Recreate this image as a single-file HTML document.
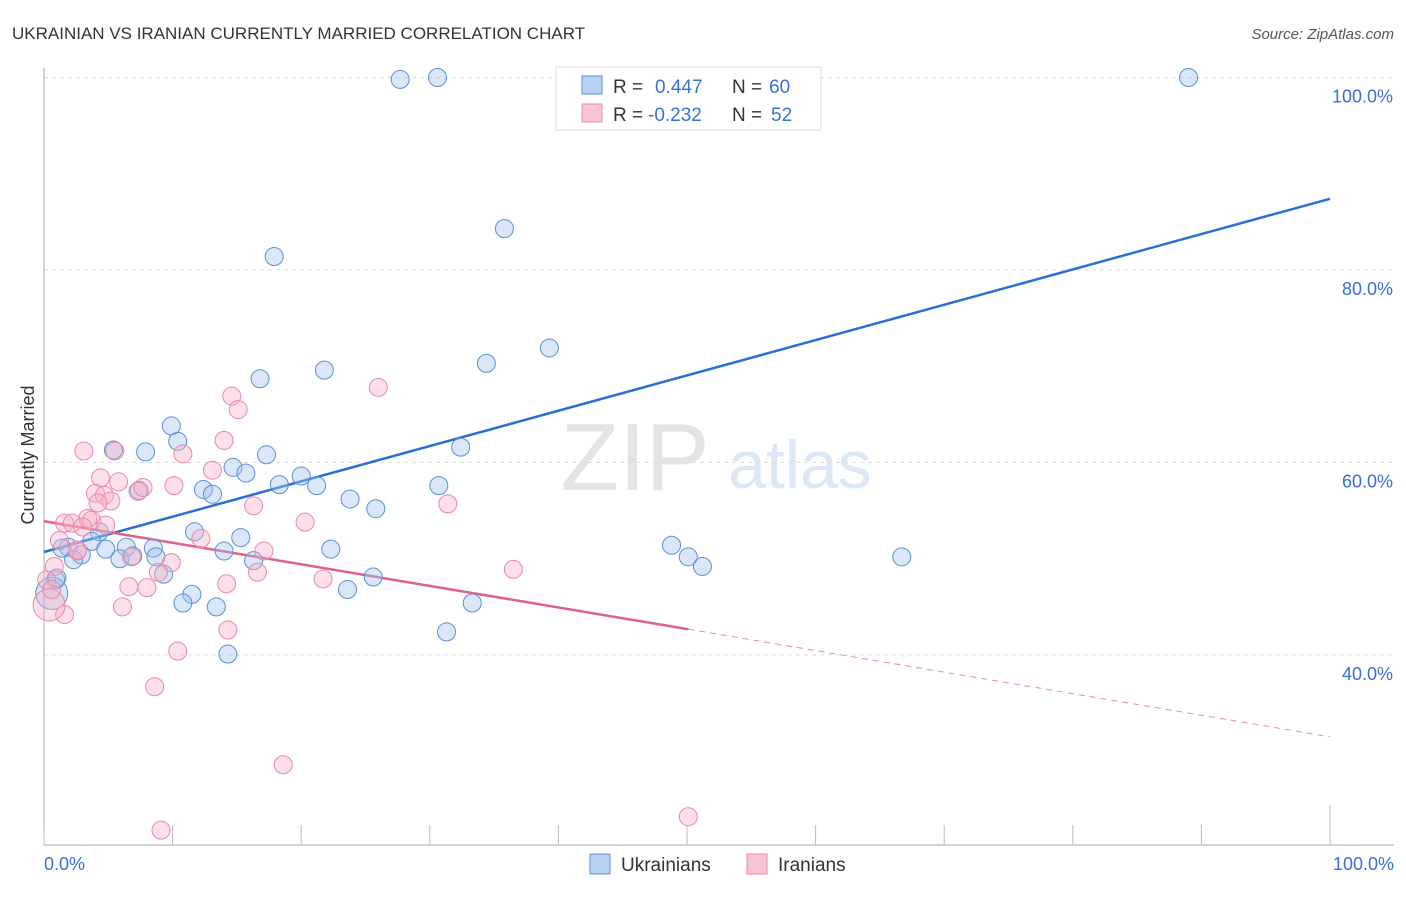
<!DOCTYPE html>
<html><head><meta charset="utf-8"><style>
body{margin:0;background:#fff;font-family:"Liberation Sans",sans-serif}
svg text{font-family:"Liberation Sans",sans-serif}
</style></head><body>
<svg id="c" width="1406" height="892" viewBox="0 0 1406 892">
<text x="12" y="39" font-size="17" fill="#333">UKRAINIAN VS IRANIAN CURRENTLY MARRIED CORRELATION CHART</text>
<text x="1394" y="39" font-size="15" fill="#555" text-anchor="end" font-style="italic">Source: ZipAtlas.com</text>
<text x="635" y="490" font-size="96" fill="#e4e4e4" font-family="Liberation Serif" text-anchor="middle">ZIP</text>
<text x="800" y="488" font-size="68" fill="#dce8f8" text-anchor="middle">atlas</text>
<g id="grid"></g>
<g id="axes"></g>
<g id="lines"></g>
<g id="pts"></g>
<text transform="translate(34,455) rotate(-90)" font-size="18" fill="#333" text-anchor="middle">Currently Married</text>
<g>
<rect x="556" y="67" width="265" height="63" fill="#fff" stroke="#ddd"/>
<rect x="582" y="76" width="20" height="18" fill="#b9d3f5" stroke="#5b8fd8"/>
<rect x="582" y="104" width="20" height="18" fill="#f9c5d5" stroke="#e88aa8"/>
<text x="613" y="93" font-size="19" fill="#333">R = </text><text x="655" y="93" font-size="19" fill="#3a6fd8">0.447</text>
<text x="732" y="93" font-size="19" fill="#333">N = </text><text x="769" y="93" font-size="19" fill="#3a6fd8">60</text>
<text x="613" y="121" font-size="19" fill="#333">R = </text><text x="648" y="121" font-size="19" fill="#3a6fd8">-0.232</text>
<text x="732" y="121" font-size="19" fill="#333">N = </text><text x="771" y="121" font-size="19" fill="#3a6fd8">52</text>
</g>
<g>
<rect x="590" y="854" width="20" height="20" fill="#b9d3f5" stroke="#5b8fd8"/>
<text x="621" y="871" font-size="19" fill="#333">Ukrainians</text>
<rect x="747" y="854" width="20" height="20" fill="#f9c5d5" stroke="#e88aa8"/>
<text x="778" y="871" font-size="19" fill="#333">Iranians</text>
</g>
</svg>
<script>
const yTicks=[40,60,80,100];
const yTickLabels=["40.0%","60.0%","80.0%","100.0%"];
const xTicks=[0,10,20,30,40,50,60,70,80,90,100];
const ukrX=[27.7,30.6,89.0,35.8,17.9,39.3,34.4,21.8,16.8,9.9,10.4,32.4,7.9,5.4,17.3,14.7,15.7,20.0,12.4,13.1,18.3,21.2,7.4,30.7,23.8,25.8,11.7,15.3,4.3,3.7,1.9,6.4,8.5,4.8,2.9,2.3,5.9,6.9,8.7,14.0,22.3,48.8,50.1,51.2,66.7,16.3,9.3,11.5,10.8,13.4,23.6,25.6,33.3,31.3,14.3,0.9,0.6,1.0,1.4];
const ukrY=[99.8,100,100,84.3,81.4,71.9,70.3,69.6,68.7,63.8,62.2,61.6,61.1,61.3,60.8,59.5,58.9,58.6,57.2,56.7,57.7,57.6,57.1,57.6,56.2,55.2,52.8,52.2,52.8,51.8,51.2,51.2,51.1,51.0,50.4,49.9,50.0,50.3,50.2,50.8,51.0,51.4,50.2,49.2,50.2,49.8,48.4,46.3,45.4,45.0,46.8,48.1,45.4,42.4,40.1,47.8,46.4,48.0,51.1];
const ukrBig=[56];
const iraX=[3.1,5.5,14.6,15.1,14.0,10.8,13.1,4.4,5.8,10.1,4.0,4.7,7.3,5.2,4.2,16.3,31.4,20.3,3.4,1.6,2.2,3.7,3.0,1.2,12.2,17.1,26.0,36.5,16.6,21.7,9.9,6.8,2.6,0.8,8.0,6.6,14.2,6.1,1.6,0.4,0.2,14.3,10.4,8.6,18.6,9.1,50.1,2.6,8.9,4.8,7.7,0.6];
const iraY=[61.2,61.2,66.9,65.5,62.3,60.9,59.2,58.4,58.0,57.6,56.8,56.6,57.0,56.0,55.8,55.5,55.7,53.8,54.2,53.7,53.7,54.0,53.3,51.9,52.1,50.8,67.8,48.9,48.6,47.9,49.6,50.2,50.8,49.2,47.0,47.1,47.4,45.0,44.2,45.2,47.8,42.6,40.4,36.7,28.6,21.8,23.2,50.9,48.6,53.5,57.4,46.8];
const iraBig=[39];
const ukrTrend=[50.7,87.4];   // y at x=0, x=100
const iraTrend=[53.9,31.5];   // y at x=0, x=100
const iraSolidEnd=50.1;
const NS="http://www.w3.org/2000/svg";
const X=v=>44+v*12.86, Y=v=>1040-v*9.625;
function mk(t,a,p){const e=document.createElementNS(NS,t);for(const k in a)e.setAttribute(k,a[k]);p.appendChild(e);return e;}
const grid=document.getElementById('grid'),axes=document.getElementById('axes'),lines=document.getElementById('lines'),pts=document.getElementById('pts');
yTicks.forEach((t,i)=>{
 const l=mk('line',{x1:44,x2:1394,y1:Y(t),y2:Y(t),stroke:'#ddd','stroke-dasharray':'4,4'},grid);
 
 
 const tx=mk('text',{x:1393,y:Y(t)+25,'font-size':18,fill:'#3a6fd8','text-anchor':'end'},axes);
 tx.textContent=yTickLabels[i];
 
 
});
let a=mk('line',{x1:44,x2:44,y1:68,y2:845,stroke:'#aaa'},axes);


a=mk('line',{x1:44,x2:1394,y1:845,y2:845,stroke:'#aaa'},axes);


xTicks.forEach(t=>{
 const tk=mk('line',{x1:X(t),x2:X(t),y1:t==100?805:825,y2:845,stroke:'#bbb'},axes);
 
 
});
let t0=mk('text',{x:44,y:870,'font-size':18,fill:'#3a6fd8'},axes);t0.textContent='0.0%';


t0=mk('text',{x:1394,y:870,'font-size':18,fill:'#3a6fd8','text-anchor':'end'},axes);t0.textContent='100.0%';


function dot(x,y,big,blue){
 const c=mk('circle',{cx:X(x),cy:Y(y),r:big?16:9,fill:blue?'rgba(160,196,240,0.4)':'rgba(248,175,198,0.4)',stroke:blue?'#5b8fd8':'#e88aa8','stroke-width':1},pts);
 
 
}
ukrX.forEach((x,i)=>dot(x,ukrY[i],ukrBig.includes(i),true));
iraX.forEach((x,i)=>dot(x,iraY[i],iraBig.includes(i),false));
const iy=x=>iraTrend[0]+(iraTrend[1]-iraTrend[0])*x/100;
let ln=mk('line',{x1:X(0),y1:Y(ukrTrend[0]),x2:X(100),y2:Y(ukrTrend[1]),stroke:'#2a6fd6','stroke-width':2.5},lines);


ln=mk('line',{x1:X(0),y1:Y(iy(0)),x2:X(iraSolidEnd),y2:Y(iy(iraSolidEnd)),stroke:'#e0608a','stroke-width':2.5},lines);


ln=mk('line',{x1:X(iraSolidEnd),y1:Y(iy(iraSolidEnd)),x2:X(100),y2:Y(iy(100)),stroke:'#e88aa8','stroke-width':1,'stroke-dasharray':'6,5'},lines);


</script>
</body></html>
